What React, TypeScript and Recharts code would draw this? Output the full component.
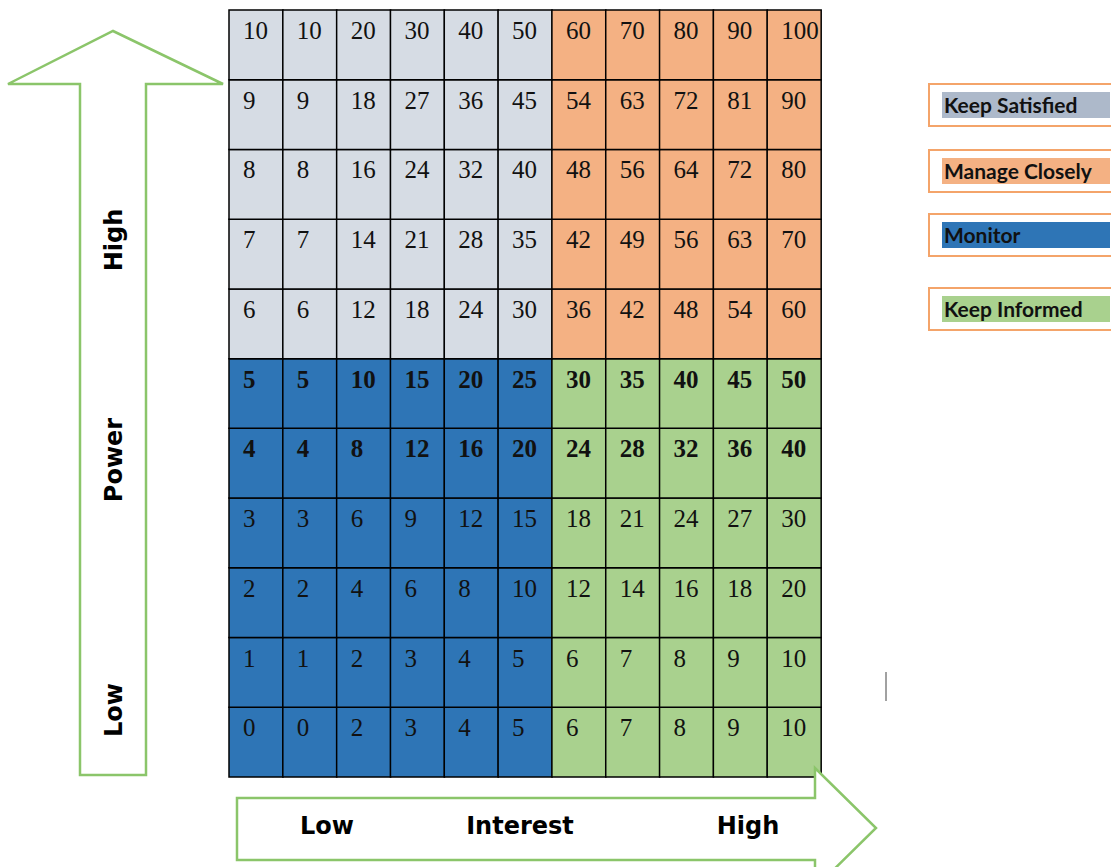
import { Bar, BarChart, Cell, LabelList, Legend, XAxis, YAxis } from 'recharts';

// interest levels, left to right
const interestCols = ['i0', 'i1', 'i2', 'i3', 'i4', 'i5', 'i6', 'i7', 'i8', 'i9', 'i10'];

// cell numbers per power row, bottom row first
const power0 = [0, 0, 2, 3, 4, 5, 6, 7, 8, 9, 10];
const power1 = [1, 1, 2, 3, 4, 5, 6, 7, 8, 9, 10];
const power2 = [2, 2, 4, 6, 8, 10, 12, 14, 16, 18, 20];
const power3 = [3, 3, 6, 9, 12, 15, 18, 21, 24, 27, 30];
const power4 = [4, 4, 8, 12, 16, 20, 24, 28, 32, 36, 40];
const power5 = [5, 5, 10, 15, 20, 25, 30, 35, 40, 45, 50];
const power6 = [6, 6, 12, 18, 24, 30, 36, 42, 48, 54, 60];
const power7 = [7, 7, 14, 21, 28, 35, 42, 49, 56, 63, 70];
const power8 = [8, 8, 16, 24, 32, 40, 48, 56, 64, 72, 80];
const power9 = [9, 9, 18, 27, 36, 45, 54, 63, 72, 81, 90];
const power10 = [10, 10, 20, 30, 40, 50, 60, 70, 80, 90, 100];

const powerRows = [power0, power1, power2, power3, power4, power5, power6, power7, power8, power9, power10];
const boldRows = [4, 5];

const quadrants = {
  satisfied: { name: 'Keep Satisfied', cell: '#D6DCE4', key: '#ADB9CA' },
  closely: { name: 'Manage Closely', cell: '#F4B183', key: '#F4B183' },
  monitor: { name: 'Monitor', cell: '#2E75B6', key: '#2E75B6' },
  informed: { name: 'Keep Informed', cell: '#A9D18E', key: '#A9D18E' },
};
const legendOrder = [quadrants.satisfied, quadrants.closely, quadrants.monitor, quadrants.informed];
const legendTops = [83, 149, 213, 287];

const data = interestCols.map((col, c) => {
  const item: Record<string, string | number> = { col };
  powerRows.forEach((row, r) => {
    item[`r${r}`] = 1;
    item[`v${r}`] = row[c];
  });
  return item;
});

const cellColor = (r: number, c: number) => {
  const highPower = r >= 6;
  const highInterest = c >= 6;
  if (highPower) return highInterest ? quadrants.closely.cell : quadrants.satisfied.cell;
  return highInterest ? quadrants.informed.cell : quadrants.monitor.cell;
};

const arrowGreen = '#8BC56A';

function renderLegend() {
  return (
    <div style={{ position: 'relative', width: 200, height: 340 }}>
      {legendOrder.map((q, i) => (
        <div
          key={q.name}
          style={{
            position: 'absolute',
            left: 0,
            top: legendTops[i],
            width: 200,
            height: 44,
            border: '2px solid #F4A46A',
            boxSizing: 'border-box',
          }}
        >
          <div
            style={{
              position: 'absolute',
              left: 12,
              top: 7,
              width: 166,
              height: 26,
              background: q.key,
              fontFamily: 'Lato',
              fontWeight: 700,
              fontSize: 21,
              lineHeight: '26px',
              color: '#111',
              paddingLeft: 2,
              whiteSpace: 'nowrap',
              textAlign: 'left',
            }}
          >
            {q.name}
          </div>
        </div>
      ))}
    </div>
  );
}

export default function App() {
  return (
    <div style={{ position: 'absolute', left: 0, top: 0, width: 1111, height: 867, overflow: 'hidden', background: '#fff' }}>
      <BarChart
        width={1111}
        height={867}
        data={data}
        margin={{ top: 10, left: 229, right: 290, bottom: 90 }}
        barCategoryGap={0}
        barGap={0}
      >
        <XAxis dataKey="col" hide />
        <YAxis hide domain={[0, 11]} />
        <Legend
          content={renderLegend}
          layout="horizontal"
          align="center"
          verticalAlign="middle"
          wrapperStyle={{ left: 928, top: 0, width: 200, height: 340 }}
        />
        {powerRows.map((_, r) => (
          <Bar
            key={r}
            dataKey={`r${r}`}
            stackId="grid"
            stroke="#000"
            strokeWidth={1.5}
            isAnimationActive={false}
          >
            {data.map((_, c) => (
              <Cell key={c} fill={cellColor(r, c)} />
            ))}
            <LabelList
              dataKey={`v${r}`}
              content={(props: any) => (
                <text
                  x={Number(props.x) + 14}
                  y={Number(props.y) + 29}
                  fontFamily="Liberation Serif"
                  fontSize={25}
                  fontWeight={boldRows.includes(r) ? 700 : 400}
                  fill="#111"
                >
                  {props.value}
                </text>
              )}
            />
          </Bar>
        ))}
      </BarChart>
      <svg
        width={1111}
        height={867}
        style={{ position: 'absolute', left: 0, top: 0, pointerEvents: 'none' }}
      >
        <polygon
          points="113,31 223,84 146,84 146,775 80,775 80,84 8,84"
          fill="#fff"
          stroke={arrowGreen}
          strokeWidth={2.5}
        />
        <polygon
          points="237,798 815,798 815,768 876,828 815,888 815,860 237,860"
          fill="#fff"
          stroke={arrowGreen}
          strokeWidth={2.5}
        />
        <g fontFamily="DejaVu Sans" fontWeight={700} fontSize={24} fill="#000" textAnchor="middle">
          <text transform="translate(122,240) rotate(-90)">High</text>
          <text transform="translate(122,460) rotate(-90)">Power</text>
          <text transform="translate(122,710) rotate(-90)">Low</text>
          <text x={327} y={834}>Low</text>
          <text x={520} y={834}>Interest</text>
          <text x={748} y={834}>High</text>
        </g>
        <line x1={886} y1={672} x2={886} y2={701} stroke="#444" strokeWidth={1} />
      </svg>
    </div>
  );
}
